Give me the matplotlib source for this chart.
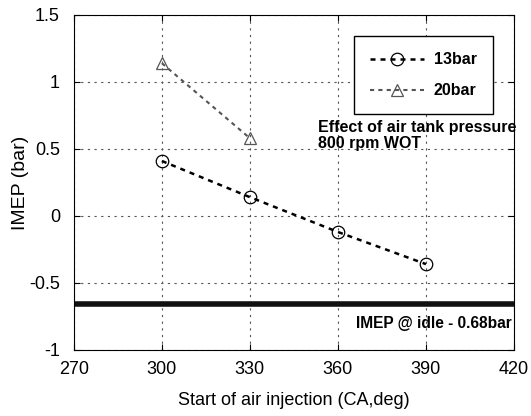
import matplotlib.pyplot as plt

plt.rcParams['font.family'] = ['Liberation Sans', 'DejaVu Sans']

# data
soi_13 = [300, 330, 360, 390]
imep_13 = [0.41, 0.14, -0.12, -0.36]
soi_20 = [300, 330]
imep_20 = [1.14, 0.58]
idle_imep = -0.66

xticks = [270, 300, 330, 360, 390, 420]
yticks = [-1, -0.5, 0, 0.5, 1, 1.5]
ylabels = ['-1', '-0.5', '0', '0.5', '1', '1.5']

fig = plt.figure(figsize=(5.31, 4.16), dpi=100)
ax = fig.add_axes([0.139, 0.159, 0.829, 0.805])

ax.plot(soi_13, imep_13, color='black', linestyle=(0, (2, 2)), linewidth=1.8,
        marker='o', markersize=9, markerfacecolor='none', markeredgecolor='black',
        markeredgewidth=0.9, label='13bar')
ax.plot(soi_20, imep_20, color='#555555', linestyle=(0, (2, 2)), linewidth=1.5,
        marker='^', markersize=9, markerfacecolor='none', markeredgecolor='#555555',
        markeredgewidth=0.9, label='20bar')
ax.axhline(idle_imep, color='#111111', linewidth=4)

ax.set_xlim(270, 420)
ax.set_ylim(-1, 1.5)
ax.set_xticks(xticks)
ax.set_yticks(yticks)
ax.set_yticklabels(ylabels)
ax.tick_params(direction='in', top=True, right=True, labelsize=13, length=4)
ax.tick_params(axis='x', pad=8)
ax.tick_params(axis='y', pad=10)
ax.grid(True, color='#555555', linestyle=(0, (2, 4)), linewidth=0.8)

ax.set_xlabel('Start of air injection (CA,deg)', fontsize=13, labelpad=10)
ax.set_ylabel('IMEP (bar)', fontsize=14, labelpad=0)

leg = ax.legend(loc='upper right', bbox_to_anchor=(0.97, 0.96), fontsize=11.5,
                fancybox=False, edgecolor='black', framealpha=1,
                borderpad=1.0, labelspacing=1.0, handlelength=3.4, handletextpad=0.6)
leg.get_frame().set_linewidth(1.0)
for t in leg.get_texts():
    t.set_fontweight('bold')

ax.text(0.555, 0.64, 'Effect of air tank pressure\n800 rpm WOT', transform=ax.transAxes,
        fontsize=11.5, fontweight='bold', linespacing=1.05, va='center', ha='left')
ax.text(366, -0.805, 'IMEP @ idle - 0.68bar', fontsize=11.2, fontweight='bold',
        va='center', ha='left')

fig.savefig('out.png', dpi=100)
